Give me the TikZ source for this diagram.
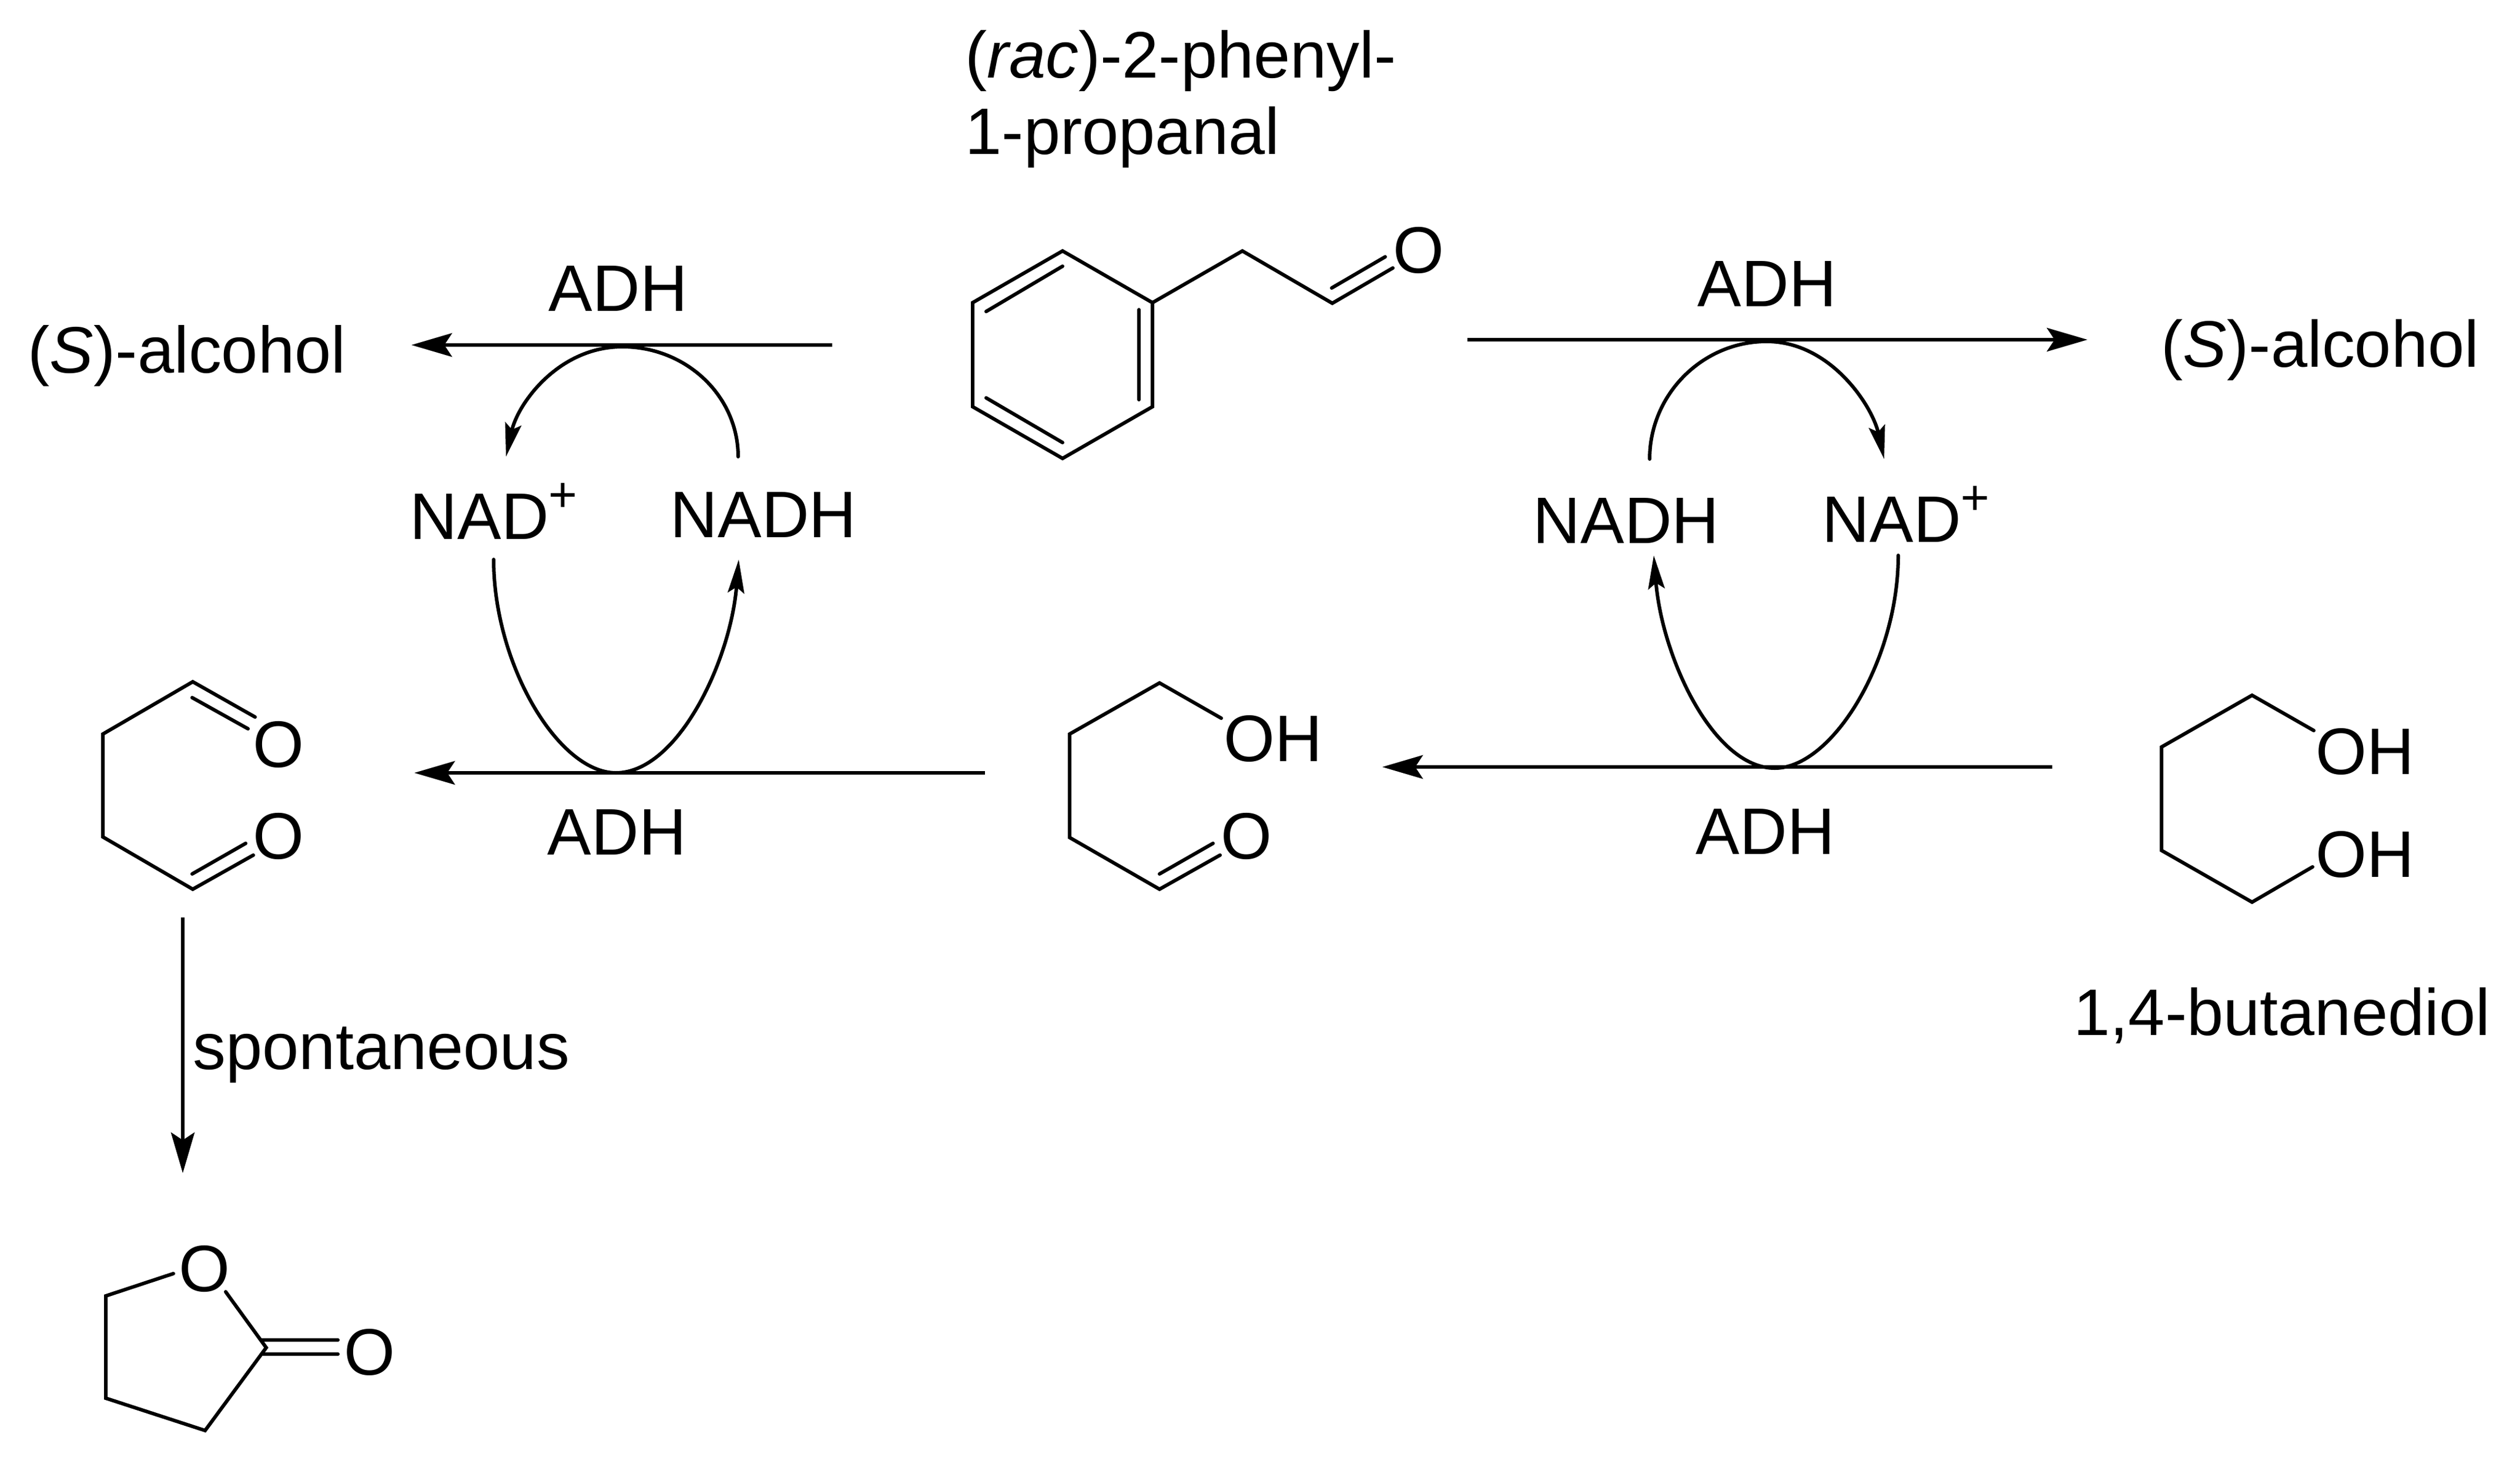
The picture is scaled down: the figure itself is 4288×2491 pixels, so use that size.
\documentclass[tikz,border=0pt]{standalone}
\usepackage{fontspec}
\setmainfont{Liberation Sans}
\usetikzlibrary{arrows.meta}
\newcommand{\plusup}{\raisebox{0.42em}{\fontsize{23.8}{24}\selectfont +}}
\tikzset{
  chemtext/.style={inner sep=0pt,anchor=base,font=\fontsize{31.8}{36}\selectfont},
  lefttext/.style={chemtext,anchor=base west},
  bond/.style={line width=0.06cm,line cap=round,miter limit=10},
  rxn/.style={line width=0.06cm,-{Stealth[length=0.69cm,width=0.40cm,inset=0.13cm]}},
  cofactor/.style={line width=0.06cm,-{Stealth[length=0.57cm,width=0.28cm,inset=0.10cm]}},
}
\begin{document}
\begin{tikzpicture}[x=0.01cm,y=-0.01cm]
  \useasboundingbox (0,0) rectangle (4288,2491);

  \node[lefttext] (racname) at (1642,133) {(\textit{rac})-2-phenyl-};
  \node[lefttext] (propanal) at (1642,262) {1-propanal};
  \node[lefttext] (alcoholL) at (47,634) {(\textit{S})-alcohol};
  \node[lefttext] (alcoholR) at (3677,624) {(\textit{S})-alcohol};
  \node[chemtext] (adhTL) at (1052,529) {ADH};
  \node[chemtext] (adhTR) at (3007,521) {ADH};
  \node[chemtext] (adhBL) at (1050,1454) {ADH};
  \node[chemtext] (adhBR) at (3004,1453) {ADH};
  \node[lefttext] (nadplusL) at (697,917) {NAD\plusup};
  \node[lefttext] (nadhL) at (1140,914) {NADH};
  \node[lefttext] (nadhR) at (2608,924) {NADH};
  \node[lefttext] (nadplusR) at (3100,922) {NAD\plusup};
  \node[lefttext] (spont) at (328,1819) {spontaneous};
  \node[chemtext] (butanediol) at (3883,1761) {1,4-butanediol};

  % 2-phenylpropanal
  \draw[bond] (1808,427) -- (1961,515) -- (1961,692) -- (1808,780) -- (1655,692) -- (1655,515) -- cycle;
  \draw[bond] (1938,527) -- (1938,680);
  \draw[bond] (1808,453) -- (1678,530);
  \draw[bond] (1678,677) -- (1808,753);
  \draw[bond] (1961,515) -- (2114,427) -- (2267,516) -- (2370,456);
  \draw[bond] (2266,490) -- (2357,437);
  \node[chemtext] (oxoA) at (2414,464) {O};

  % succinaldehyde
  \draw[bond] (434,1220) -- (328,1160) -- (175,1249) -- (175,1424) -- (328,1513) -- (431,1455);
  \draw[bond] (327,1187) -- (422,1240);
  \draw[bond] (327,1487) -- (418,1435);
  \node[chemtext] (oxoB) at (474,1305) {O};
  \node[chemtext] (oxoC) at (474,1461) {O};

  % lactone
  \draw[bond] (295,2167) -- (180,2205) -- (180,2379) -- (349,2434) -- (453,2293) -- (384,2198);
  \draw[bond] (446,2280) -- (575,2280);
  \draw[bond] (446,2304) -- (575,2304);
  \node[chemtext] (oxoD) at (348,2197) {O};
  \node[chemtext] (oxoE) at (629,2339) {O};

  % hydroxy aldehyde
  \draw[bond] (2078,1222) -- (1973,1162) -- (1820,1249) -- (1820,1425) -- (1973,1513) -- (2076,1455);
  \draw[bond] (1973,1487) -- (2064,1435);
  \node[lefttext] (ohA) at (2082,1295) {OH};
  \node[chemtext] (oxoF) at (2121,1461) {O};

  % 1,4-butanediol
  \draw[bond] (3937,1243) -- (3832,1183) -- (3678,1271) -- (3678,1447) -- (3832,1535) -- (3935,1475);
  \node[lefttext] (ohB) at (3940,1317) {OH};
  \node[lefttext] (ohC) at (3940,1492) {OH};

  \coordinate (tailTL) at (1416,587);
  \coordinate (tipTL) at (700,587);
  \coordinate (tailTR) at (2497,578);
  \coordinate (tipTR) at (3552,578);
  \coordinate (tailBL) at (1676,1315);
  \coordinate (tipBL) at (705,1315);
  \coordinate (tailBR) at (3492,1305);
  \coordinate (tipBR) at (2352,1305);
  \coordinate (tailS) at (311,1561);
  \coordinate (tipS) at (311,1996);

  \draw[rxn] (tailTL) -- (tipTL);
  \draw[rxn] (tailTR) -- (tipTR);
  \draw[rxn] (tailBL) -- (tipBL);
  \draw[rxn] (tailBR) -- (tipBR);
  \draw[rxn] (tailS) -- (tipS);

  \coordinate (apexTL) at (1059,590);
  \coordinate (apexTR) at (3006,581);
  \coordinate (apexBL) at (1048,1315);
  \coordinate (apexBR) at (3020,1307);

  \coordinate (fromTL) at (1256,777);
  \coordinate (toTL) at (861,777);
  \coordinate (fromTR) at (2807,781);
  \coordinate (toTR) at (3206,781);
  \coordinate (fromBL) at (840,952);
  \coordinate (toBL) at (1257,952);
  \coordinate (fromBR) at (3230,945);
  \coordinate (toBR) at (2814,945);

  \draw[cofactor,line cap=round] (fromTL) .. controls +(0,-103) and +(109,0) .. (apexTL) .. controls +(-109,0) and +(20,-90) .. (toTL);
  \draw[cofactor,line cap=round] (fromTR) .. controls +(0,-110) and +(-109,0) .. (apexTR) .. controls +(109,0) and +(-20,-90) .. (toTR);
  \draw[cofactor,line cap=round] (fromBL) .. controls +(0,178) and +(-98,0) .. (apexBL) .. controls +(105,0) and +(-14,173) .. (toBL);
  \draw[cofactor,line cap=round] (fromBR) .. controls +(0,178) and +(98,0) .. (apexBR) .. controls +(-105,0) and +(14,173) .. (toBR);
\end{tikzpicture}
\end{document}
